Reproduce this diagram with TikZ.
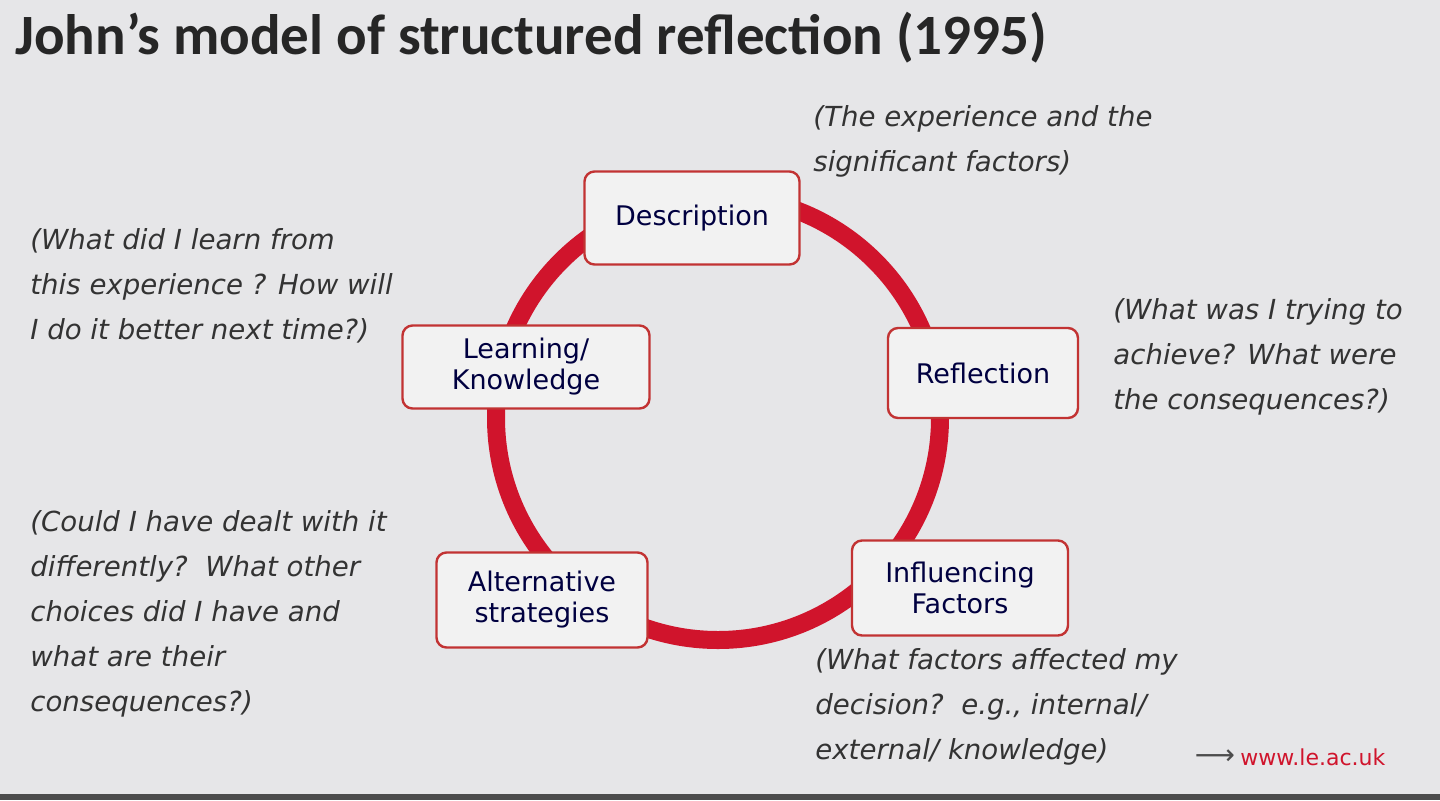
\documentclass[tikz,border=0pt]{standalone}
\usepackage{fontspec}
\setmainfont{DejaVu Sans}
\newfontfamily\titlefont{Carlito}
\begin{document}
\begin{tikzpicture}[x=0.5pt,y=-0.5pt,
  stagebox/.style={draw=red!70!black!80, line width=1.2pt, fill=gray!10, rounded corners=5pt, align=center, text=blue!25!black, font=\fontsize{13.5}{15.5}\selectfont, inner sep=0pt},
  note/.style={anchor=north west, align=left, text=black!80, font=\fontsize{13.8}{22.5}\selectfont\itshape, inner sep=0pt}]
\definecolor{bg}{HTML}{E6E6E8}
\definecolor{ring}{HTML}{D0142C}
\fill[bg] (0,0) rectangle (1440,800);
\useasboundingbox (0,0) rectangle (1440,800);
\fill[black!70] (0,794) rectangle (1440,800);
\node[anchor=west, inner sep=0pt, font=\titlefont\bfseries\fontsize{28.5}{32}\selectfont, text=black!85] (title) at (15,38) {John’s model of structured reflection (1995)};
\node[circle, draw=ring, line width=9pt, minimum size=222pt, inner sep=0pt] (ring) at (718,418) {};
\node[stagebox, minimum width=107.5pt, minimum height=46.5pt] (desc) at (692,218) {Description};
\node[stagebox, minimum width=95pt, minimum height=45pt] (refl) at (983,373) {Reflection};
\node[stagebox, minimum width=108pt, minimum height=47.5pt] (infl) at (960,588) {Influencing\\Factors};
\node[stagebox, minimum width=105.5pt, minimum height=47.5pt] (alt) at (542,600) {Alternative\\strategies};
\node[stagebox, minimum width=123.5pt, minimum height=41.5pt] (learn) at (526,367) {Learning/\\Knowledge};
\node[note] (n1) at (813,105) {(The experience and the\\significant factors)};
\node[note] (n2) at (1113,298) {(What was I trying to\\achieve? What were\\the consequences?)};
\node[note] (n3) at (815,648) {(What factors affected my\\decision?\ \ e.g., internal/\\external/ knowledge)};
\node[note] (n4) at (30,510) {(Could I have dealt with it\\differently?\ \ What other\\choices did I have and\\what are their\\consequences?)};
\node[note] (n5) at (30,228) {(What did I learn from\\this experience ? How will\\I do it better next time?)};
\node[anchor=west, inner sep=0pt, text=ring, font=\fontsize{11}{13}\selectfont] (url) at (1240,757) {www.le.ac.uk};
\node[anchor=east, inner sep=0pt, text=black!70, font=\fontsize{14}{14}\selectfont] (arr) at (url.west) {⟶\,};
\end{tikzpicture}
\end{document}
